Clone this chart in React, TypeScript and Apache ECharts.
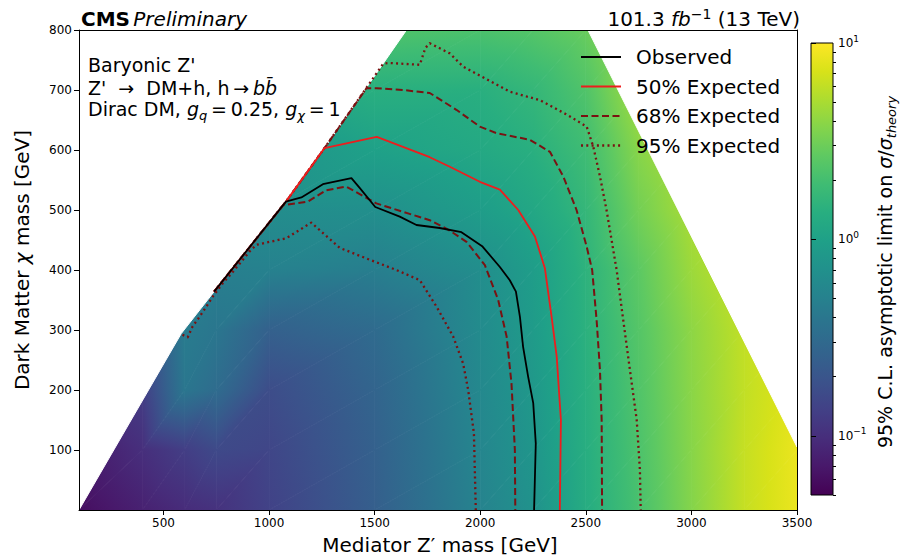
import React, { useEffect, useRef } from "react";
import * as echarts from "echarts";

// ---------- axes ----------
const X_MIN = 100;
const X_MAX = 3500;
const Y_MIN = 0;
const Y_MAX = 800;
const xTicks = [500, 1000, 1500, 2000, 2500, 3000, 3500];
const yTicks = [100, 200, 300, 400, 500, 600, 700, 800];
const CB_MIN = 0.05;
const CB_MAX = 10;
const cbMajor = [0.1, 1, 10];
const cbMinor = [0.05, 0.06, 0.07, 0.08, 0.09, 0.2, 0.3, 0.4, 0.5, 0.6, 0.7, 0.8, 0.9, 2, 3, 4, 5, 6, 7, 8, 9];

// ---------- limit map (sigma/sigma_theory) read on a coarse grid ----------
const gridMZ = [100, 400, 600, 750, 1000, 1500, 2000, 2250, 2500, 2750, 3000, 3250, 3500];
const gridMDM = [0, 100, 200, 300, 400, 500, 600, 700, 800];
const limitAt0 = [0.06, 0.08, 0.095, 0.105, 0.14, 0.24, 0.52, 0.72, 1.3, 2.1, 3.7, 6.2, 8.5];
const limitAt100 = [0.07, 0.1, 0.13, 0.16, 0.15, 0.25, 0.55, 0.78, 1.35, 2.2, 3.8, 6.2, 8.5];
const limitAt200 = [0.09, 0.13, 0.4, 0.32, 0.17, 0.27, 0.58, 0.82, 1.4, 2.3, 3.9, 6.0, 8.0];
const limitAt300 = [0.12, 0.2, 0.45, 0.4, 0.25, 0.31, 0.62, 0.88, 1.45, 2.4, 4.0, 6.0, 8.0];
const limitAt400 = [0.15, 0.25, 0.4, 0.48, 0.5, 0.47, 0.66, 0.92, 1.5, 2.6, 4.5, 6.5, 8.5];
const limitAt500 = [0.2, 0.3, 0.45, 0.55, 0.65, 0.68, 0.92, 1.15, 1.65, 3.2, 5.0, 7.0, 9.0];
const limitAt600 = [0.25, 0.35, 0.5, 0.6, 0.75, 1.0, 1.2, 1.4, 1.9, 3.8, 5.5, 7.5, 9.0];
const limitAt700 = [0.35, 0.45, 0.6, 0.8, 1.2, 1.4, 1.4, 1.65, 2.3, 4.8, 6.0, 8.0, 9.5];
const limitAt800 = [0.5, 0.7, 0.9, 1.2, 2.0, 2.3, 2.2, 2.4, 2.9, 5.0, 6.5, 8.5, 10];

// ---------- scan boundary ----------
const hullLeftEdge = [[100, 0], [584, 294], [740, 364], [1080, 514], [1262, 603], [1651, 800]];
const hullRightEdge = [[2510, 800], [3500, 105]];

// ---------- contours ----------
const observed = [[740, 364], [1080, 514], [1153, 521], [1255, 543], [1390, 553], [1431, 536], [1503, 505], [1619, 489], [1698, 475], [1808, 470], [1911, 463], [2011, 439], [2093, 405], [2140, 383], [2169, 364], [2188, 322], [2203, 272], [2227, 222], [2251, 178], [2263, 111], [2255, 0]];
const expected50 = [[740, 364], [1080, 514], [1262, 603], [1510, 622], [1761, 588], [1856, 572], [1998, 547], [2093, 534], [2180, 500], [2259, 456], [2306, 403], [2338, 322], [2362, 256], [2382, 150], [2377, 0]];
const expected68Down = [[740, 364], [1066, 508], [1184, 514], [1271, 533], [1366, 539], [1508, 511], [1634, 497], [1761, 483], [1850, 467], [1935, 447], [2022, 408], [2085, 350], [2125, 289], [2148, 211], [2164, 100], [2166, 0]];
const expected68Up = [[740, 364], [1080, 514], [1262, 603], [1461, 703], [1508, 703], [1634, 700], [1761, 695], [1887, 667], [1998, 639], [2077, 628], [2235, 617], [2330, 597], [2393, 556], [2456, 500], [2504, 439], [2530, 400], [2551, 317], [2567, 233], [2575, 150], [2577, 0]];
const expected95Down = [[590, 292], [615, 288], [638, 306], [671, 322], [703, 339], [734, 356], [781, 378], [829, 397], [876, 417], [908, 431], [940, 442], [1082, 453], [1200, 479], [1334, 437], [1477, 417], [1603, 400], [1714, 383], [1793, 339], [1872, 289], [1919, 244], [1943, 200], [1970, 128], [1979, 0]];
const expected95Up = [[740, 364], [1080, 514], [1262, 603], [1541, 744], [1571, 745], [1714, 742], [1740, 770], [1761, 778], [1856, 761], [1919, 739], [2141, 697], [2283, 683], [2425, 656], [2504, 639], [2535, 606], [2567, 556], [2598, 500], [2630, 433], [2646, 400], [2677, 317], [2709, 233], [2741, 150], [2756, 67], [2760, 0]];

const legendNames = ["Observed", "50% Expected", "68% Expected", "95% Expected"];

// ---------- styling ----------
const FONT = "DejaVu Sans";
const DARKRED = "#7a1212";
const RED = "#ee1d1d";
const DASH = [7, 3.5];
const DOT = [2, 3.3];

const VIRIDIS = ["#440154", "#48186a", "#472d7b", "#424086", "#3b528b", "#33638d", "#2c728e", "#26828e", "#21918c", "#1fa088", "#28ae80", "#3fbc73", "#5ec962", "#84d44b", "#addc30", "#d8e219", "#fde725"];

function hexRgb(h: string) {
  return [parseInt(h.slice(1, 3), 16), parseInt(h.slice(3, 5), 16), parseInt(h.slice(5, 7), 16)];
}
function viridis(f: number) {
  const c = Math.max(0, Math.min(1, f));
  const s = c * 16;
  const i = Math.min(15, Math.floor(s));
  const t = s - i;
  const a = hexRgb(VIRIDIS[i]);
  const b = hexRgb(VIRIDIS[i + 1]);
  const m = a.map((v, k) => Math.round(v + (b[k] - v) * t));
  return `rgb(${m[0]},${m[1]},${m[2]})`;
}
function norm(v: number) {
  return (Math.log10(v) - Math.log10(CB_MIN)) / (Math.log10(CB_MAX) - Math.log10(CB_MIN));
}
function triFill(P: number[][], F: number[]) {
  const [p1, p2, p3] = P;
  const [f1, f2, f3] = F;
  const fmin = Math.min(f1, f2, f3);
  const fmax = Math.max(f1, f2, f3);
  if (fmax - fmin < 1e-5) return viridis((f1 + f2 + f3) / 3);
  const d2x = p2[0] - p1[0], d2y = p2[1] - p1[1];
  const d3x = p3[0] - p1[0], d3y = p3[1] - p1[1];
  const det = d2x * d3y - d2y * d3x;
  const df2 = f2 - f1, df3 = f3 - f1;
  const ax = (df2 * d3y - d2y * df3) / det;
  const ay = (d2x * df3 - df2 * d3x) / det;
  const g2 = ax * ax + ay * ay;
  const A = [p1[0] + (ax * (fmin - f1)) / g2, p1[1] + (ay * (fmin - f1)) / g2];
  const B = [p1[0] + (ax * (fmax - f1)) / g2, p1[1] + (ay * (fmax - f1)) / g2];
  const stops: any[] = [{ offset: 0, color: viridis(fmin) }];
  for (let k = 1; k < 16; k++) {
    const fk = k / 16;
    if (fk > fmin && fk < fmax) stops.push({ offset: (fk - fmin) / (fmax - fmin), color: VIRIDIS[k] });
  }
  stops.push({ offset: 1, color: viridis(fmax) });
  return new echarts.graphic.LinearGradient(A[0], A[1], B[0], B[1], stops, true);
}

const limitRows = [limitAt0, limitAt100, limitAt200, limitAt300, limitAt400, limitAt500, limitAt600, limitAt700, limitAt800];

function renderField(_params: any, api: any) {
  const children: any[] = [];
  for (let r = 0; r < gridMDM.length - 1; r++) {
    for (let c = 0; c < gridMZ.length - 1; c++) {
      const p00 = api.coord([gridMZ[c], gridMDM[r]]);
      const p10 = api.coord([gridMZ[c + 1], gridMDM[r]]);
      const p01 = api.coord([gridMZ[c], gridMDM[r + 1]]);
      const p11 = api.coord([gridMZ[c + 1], gridMDM[r + 1]]);
      const f00 = norm(limitRows[r][c]);
      const f10 = norm(limitRows[r][c + 1]);
      const f01 = norm(limitRows[r + 1][c]);
      const f11 = norm(limitRows[r + 1][c + 1]);
      const tris = [
        [[p00, p10, p11], [f00, f10, f11]],
        [[p00, p11, p01], [f00, f11, f01]],
      ];
      for (const [P, F] of tris as any) {
        children.push({
          type: "polygon",
          silent: true,
          shape: { points: P },
          style: { fill: triFill(P, F), stroke: triFill(P, F), lineWidth: 0.8 },
        });
      }
    }
  }
  return { type: "group", children };
}

function renderMask(_params: any, api: any) {
  const left = [...hullLeftEdge, [X_MIN, Y_MAX]].map((p) => api.coord(p));
  const right = [...hullRightEdge, [X_MAX, Y_MAX]].map((p) => api.coord(p));
  return {
    type: "group",
    children: [
      { type: "polygon", silent: true, shape: { points: left }, style: { fill: "#fff", stroke: "#fff", lineWidth: 1 } },
      { type: "polygon", silent: true, shape: { points: right }, style: { fill: "#fff", stroke: "#fff", lineWidth: 1 } },
    ],
  };
}

function renderColorbar(_params: any, api: any) {
  const pb = api.coord([0, CB_MIN]);
  const pt = api.coord([1, CB_MAX]);
  const stops = VIRIDIS.map((c, k) => ({ offset: k / 16, color: c }));
  return {
    type: "rect",
    silent: true,
    shape: { x: pb[0], y: pt[1], width: pt[0] - pb[0], height: pb[1] - pt[1] },
    style: { fill: new echarts.graphic.LinearGradient(0, 1, 0, 0, stops), stroke: "#000", lineWidth: 1 },
  };
}

function lineSeries(data: number[][], color: string, width: number, type: any) {
  return {
    type: "line",
    xAxisIndex: 0,
    yAxisIndex: 0,
    data,
    showSymbol: false,
    symbol: "none",
    silent: true,
    z: 4,
    lineStyle: { color, width, type, cap: "butt", join: "round" },
  };
}

const legendStyles = [
  { color: "#000", width: 1.8, dash: null as any },
  { color: RED, width: 1.8, dash: null as any },
  { color: DARKRED, width: 2, dash: DASH },
  { color: DARKRED, width: 2.3, dash: DOT },
];

export default function App() {
  const ref = useRef<HTMLDivElement>(null);
  useEffect(() => {
    if (!ref.current) return;
    const chart = echarts.init(ref.current, null, { renderer: "svg" });
    const axisBase = {
      type: "value",
      splitLine: { show: false },
      z: 6,
      axisLine: { show: true, onZero: false, lineStyle: { color: "#000", width: 1 } },
    };
    const legendY = [57, 86.5, 116, 145.5];
    const graphics: any[] = [];
    legendNames.forEach((name, i) => {
      const st = legendStyles[i];
      graphics.push({
        type: "line",
        silent: true,
        z: 20,
        shape: { x1: 581, y1: legendY[i], x2: 621, y2: legendY[i] },
        style: { stroke: st.color, lineWidth: st.width, lineDash: st.dash || undefined },
      });
      graphics.push({
        type: "text",
        silent: true,
        z: 20,
        style: { text: name, x: 636, y: legendY[i], verticalAlign: "middle", fontFamily: FONT, fontSize: 20, fill: "#000" },
      });
    });
    // titles
    graphics.push({
      type: "text",
      silent: true,
      z: 20,
      style: {
        text: "{b|CMS} {i|Preliminary}",
        x: 81,
        y: 19,
        verticalAlign: "middle",
        fill: "#000",
        rich: {
          b: { fontFamily: FONT, fontSize: 20, fontWeight: "bold" },
          i: { fontFamily: FONT, fontSize: 20, fontStyle: "italic" },
        },
      },
    });
    graphics.push({
      type: "text",
      silent: true,
      z: 20,
      style: {
        text: "{n|101.3 }{i|fb}{s|−1}{n| (13 TeV)}",
        x: 800,
        y: 19,
        align: "right",
        verticalAlign: "middle",
        fill: "#000",
        rich: {
          n: { fontFamily: FONT, fontSize: 20, lineHeight: 24 },
          i: { fontFamily: FONT, fontSize: 20, fontStyle: "italic", lineHeight: 24 },
          s: { fontFamily: FONT, fontSize: 14, lineHeight: 13, verticalAlign: "top" },
        },
      },
    });
    // model text
    const modelRich = {
      n: { fontFamily: FONT, fontSize: 19, lineHeight: 26 },
      i: { fontFamily: FONT, fontSize: 19, fontStyle: "italic", lineHeight: 26 },
      sub: { fontFamily: FONT, fontSize: 13, fontStyle: "italic", lineHeight: 13, verticalAlign: "bottom" },
    };
    const modelLines = [
      "{n|Baryonic Z'}",
      "{n|Z'  →  DM+h, h\u2009→\u2009}{i|bb\u0304}",
      "{n|Dirac DM, }{i|g}{sub|q}{n|\u2009=\u20090.25, }{i|g}{sub|χ}{n|\u2009=\u20091}",
    ];
    const modelY = [65, 88, 109];
    modelLines.forEach((t, i) => {
      graphics.push({
        type: "text",
        silent: true,
        z: 20,
        style: { text: t, x: 88, y: modelY[i], verticalAlign: "middle", fill: "#000", rich: modelRich },
      });
    });
    // axis titles
    graphics.push({
      type: "text",
      silent: true,
      z: 20,
      style: { text: "Mediator Z′ mass [GeV]", x: 440, y: 545, align: "center", verticalAlign: "middle", fontFamily: FONT, fontSize: 20, fill: "#000" },
    });
    graphics.push({
      type: "text",
      silent: true,
      z: 20,
      x: 22,
      y: 260,
      rotation: Math.PI / 2,
      style: {
        text: "{n|Dark Matter }{i|χ}{n| mass [GeV]}",
        x: 0,
        y: 0,
        align: "center",
        verticalAlign: "middle",
        fill: "#000",
        rich: {
          n: { fontFamily: FONT, fontSize: 20 },
          i: { fontFamily: FONT, fontSize: 20, fontStyle: "italic" },
        },
      },
    });
    graphics.push({
      type: "text",
      silent: true,
      z: 20,
      x: 885,
      y: 272,
      rotation: Math.PI / 2,
      style: {
        text: "{n|95% C.L. asymptotic limit on }{i|σ}{n|/}{i|σ}{sub|theory}",
        x: 0,
        y: 0,
        align: "center",
        verticalAlign: "middle",
        fill: "#000",
        rich: {
          n: { fontFamily: FONT, fontSize: 19, lineHeight: 26 },
          i: { fontFamily: FONT, fontSize: 19, fontStyle: "italic", lineHeight: 26 },
          sub: { fontFamily: FONT, fontSize: 13, fontStyle: "italic", lineHeight: 13, verticalAlign: "bottom" },
        },
      },
    });

    const option: any = {
      animation: false,
      backgroundColor: "#fff",
      grid: [
        { left: 79, top: 30, width: 718, height: 480, containLabel: false },
        { left: 811, top: 43, width: 22, height: 452, containLabel: false },
      ],
      xAxis: [
        {
          ...axisBase,
          gridIndex: 0,
          min: X_MIN,
          max: X_MAX,
          position: "bottom",
          axisTick: { show: true, customValues: xTicks, length: 5, lineStyle: { color: "#000" } },
          axisLabel: { show: true, customValues: xTicks, color: "#000", fontFamily: FONT, fontSize: 12, margin: 7, formatter: (v: number) => String(v) },
        },
        {
          ...axisBase,
          gridIndex: 0,
          min: X_MIN,
          max: X_MAX,
          position: "top",
          axisTick: { show: false },
          axisLabel: { show: false },
        },
        { type: "value", gridIndex: 1, min: 0, max: 1, show: false },
      ],
      yAxis: [
        {
          ...axisBase,
          gridIndex: 0,
          min: Y_MIN,
          max: Y_MAX,
          position: "left",
          axisTick: { show: true, customValues: yTicks, length: 5, lineStyle: { color: "#000" } },
          axisLabel: { show: true, customValues: yTicks, color: "#000", fontFamily: FONT, fontSize: 12, margin: 7, formatter: (v: number) => String(v) },
        },
        {
          ...axisBase,
          gridIndex: 0,
          min: Y_MIN,
          max: Y_MAX,
          position: "right",
          axisTick: { show: false },
          axisLabel: { show: false },
        },
        {
          type: "log",
          logBase: 10,
          gridIndex: 1,
          min: CB_MIN,
          max: CB_MAX,
          position: "right",
          z: 6,
          splitLine: { show: false },
          axisLine: { show: false },
          axisTick: { show: true, customValues: cbMajor, length: 5, lineStyle: { color: "#000" } },
          axisLabel: {
            show: true,
            customValues: cbMajor,
            margin: 5,
            color: "#000",
            formatter: (v: number) => `{b|10}{s|${Math.round(Math.log10(v)) < 0 ? "−" : ""}${Math.abs(Math.round(Math.log10(v)))}}`,
            rich: {
              b: { fontFamily: FONT, fontSize: 12, lineHeight: 18 },
              s: { fontFamily: FONT, fontSize: 9, lineHeight: 10, verticalAlign: "top" },
            },
          },
        },
        {
          type: "log",
          logBase: 10,
          gridIndex: 1,
          min: CB_MIN,
          max: CB_MAX,
          position: "right",
          z: 6,
          splitLine: { show: false },
          axisLine: { show: false },
          axisTick: { show: true, customValues: cbMinor, length: 3, lineStyle: { color: "#000" } },
          axisLabel: { show: false },
        },
      ],
      series: [
        {
          type: "custom",
          xAxisIndex: 0,
          yAxisIndex: 0,
          data: [[X_MIN, Y_MIN]],
          renderItem: renderField,
          silent: true,
          z: 1,
          clip: true,
        },
        {
          type: "custom",
          xAxisIndex: 0,
          yAxisIndex: 0,
          data: [[X_MIN, Y_MIN]],
          renderItem: renderMask,
          silent: true,
          z: 2,
          clip: true,
        },
        lineSeries(expected95Down, DARKRED, 2.3, DOT),
        lineSeries(expected95Up, DARKRED, 2.3, DOT),
        lineSeries(expected68Down, DARKRED, 2, DASH),
        lineSeries(expected68Up, DARKRED, 2, DASH),
        lineSeries(expected50, RED, 1.8, "solid"),
        lineSeries(observed, "#000", 1.8, "solid"),
        {
          type: "custom",
          xAxisIndex: 2,
          yAxisIndex: 2,
          data: [[0, CB_MIN]],
          renderItem: renderColorbar,
          silent: true,
          z: 1,
        },
      ],
      graphic: graphics,
    };
    chart.setOption(option);
    return () => chart.dispose();
  }, []);
  return <div ref={ref} style={{ position: "fixed", left: 0, top: 0, width: 913, height: 557 }} />;
}
